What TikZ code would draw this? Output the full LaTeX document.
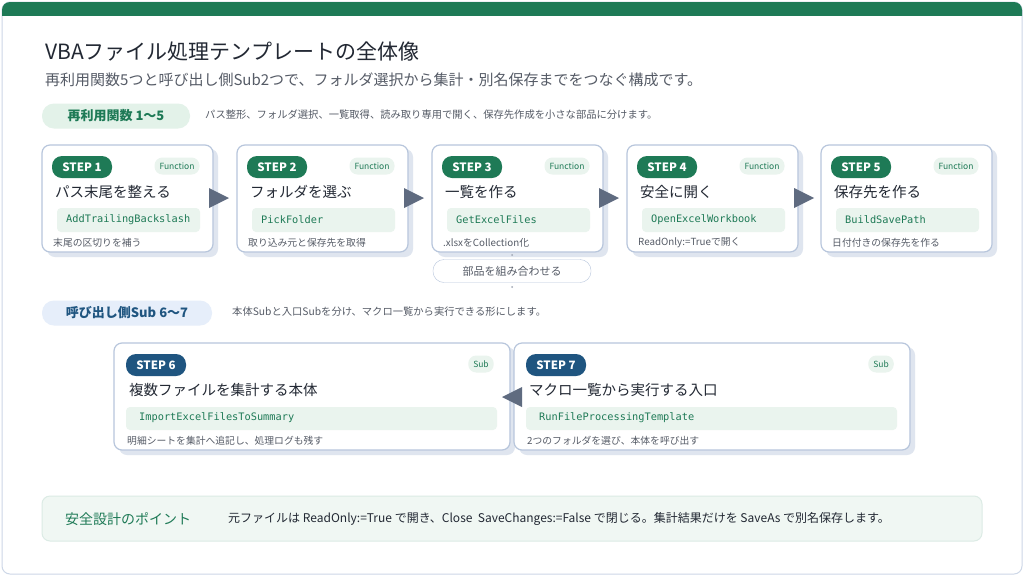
\documentclass[tikz,border=0pt]{standalone}
\usepackage{fontspec}
\setmainfont{Noto Sans CJK JP}
\newfontfamily\codefont{DejaVu Sans Mono}
\definecolor{dg}{HTML}{1E7A56}
\definecolor{lg}{HTML}{E3F2E9}
\definecolor{cg}{HTML}{EAF4EE}
\definecolor{db}{HTML}{1F5580}
\definecolor{lb}{HTML}{E6EEFA}
\definecolor{bd}{HTML}{B8C6DC}
\definecolor{ar}{HTML}{5F6B80}
\definecolor{tx}{HTML}{222833}
\definecolor{gt}{HTML}{555B66}
\tikzset{
 card/.style={draw=bd,line width=1.2pt,fill=white,rounded corners=8pt},
 shadowc/.style={fill=bd!45,rounded corners=8pt},
 badgeg/.style={fill=dg,text=white,rounded corners=10pt,font=\bfseries\fontsize{11.5}{11}\selectfont,minimum width=60pt,minimum height=22pt,inner sep=0pt},
 badgeb/.style={badgeg,fill=db},
 tag/.style={fill=cg,text=dg,rounded corners=8pt,font=\fontsize{8.5}{8}\selectfont,minimum height=17pt,inner xsep=5pt},
 ttl/.style={anchor=west,text=tx,font=\fontsize{14.5}{15}\selectfont,inner sep=0pt},
 codebox/.style={fill=cg,rounded corners=4pt},
 code/.style={anchor=west,text=dg,font=\codefont\fontsize{10.3}{10}\selectfont,inner sep=0pt},
 foot/.style={anchor=west,text=gt,font=\fontsize{9.8}{10}\selectfont,inner sep=0pt},
 tri/.style={fill=ar},
}
\begin{document}
\begin{tikzpicture}[x=1pt,y=-1pt]
\useasboundingbox (0,0) rectangle (1024,576);
\fill[white] (0,0) rectangle (1024,576);
\draw[bd!70,line width=1pt,rounded corners=8pt] (2,2) rectangle (1022,574);
\begin{scope}
\clip[rounded corners=8pt] (2,2) rectangle (1022,574);
\fill[dg] (0,0) rectangle (1024,16);
\end{scope}
\node[anchor=west,text=tx,font=\fontsize{21}{21}\selectfont,inner sep=0pt] (title) at (45,52) {VBAファイル処理テンプレートの全体像};
\node[anchor=west,text=gt,font=\fontsize{15}{15}\selectfont,inner sep=0pt] (sub) at (45,80) {再利用関数5つと呼び出し側Sub2つで、フォルダ選択から集計・別名保存までをつなぐ構成です。};
\node[fill=lg,text=dg,rounded corners=12pt,font=\bfseries\fontsize{13}{13}\selectfont,minimum width=148pt,minimum height=25pt] (p1) at (116,116) {再利用関数 1～5};
\node[anchor=west,text=gt,font=\fontsize{10.3}{10}\selectfont,inner sep=0pt] (d1) at (205,115) {パス整形、フォルダ選択、一覧取得、読み取り専用で開く、保存先作成を小さな部品に分けます。};
% top cards
\foreach \i/\x/\t/\c/\f in {1/42/パス末尾を整える/AddTrailingBackslash/末尾の区切りを補う,
 2/237/フォルダを選ぶ/PickFolder/取り込み元と保存先を取得,
 3/432/一覧を作る/GetExcelFiles/.xlsxをCollection化,
 4/627/安全に開く/OpenExcelWorkbook/ReadOnly:=Trueで開く,
 5/821/保存先を作る/BuildSavePath/日付付きの保存先を作る}{
 \fill[shadowc] (\x+5,149) rectangle (\x+176,257);
 \draw[card] (\x,145) rectangle (\x+171,252);
 \node[badgeg] (s\i) at (\x+40,167) {STEP \i};
 \node[tag] (f\i) at (\x+135,166) {Function};
 \node[ttl] (t\i) at (\x+13,192) {\t};
 \fill[codebox] (\x+15,208) rectangle (\x+158,232);
 \node[code] (c\i) at (\x+24,220) {\c};
 \node[foot] (n\i) at (\x+11,243) {\f};
}
\foreach \x in {209,404,599,794}{
 \fill[tri] (\x,188) -- (\x+20,198) -- (\x,208) -- cycle;
}
\node[draw=bd,fill=white,rounded corners=11pt,text=gt,font=\fontsize{11}{11}\selectfont,minimum width=158pt,minimum height=23pt] (combine) at (512,271) {部品を組み合わせる};
\fill[ar!60] (512,255) circle (1pt) (512,287) circle (1pt);
\node[fill=lb,text=db,rounded corners=12pt,font=\bfseries\fontsize{13}{13}\selectfont,minimum width=170pt,minimum height=25pt] (p2) at (127,313) {呼び出し側Sub 6～7};
\node[anchor=west,text=gt,font=\fontsize{10.3}{10}\selectfont,inner sep=0pt] (d2) at (232,312) {本体Subと入口Subを分け、マクロ一覧から実行できる形にします。};
% bottom cards
\foreach \i/\x/\t/\c/\f in {6/114/複数ファイルを集計する本体/ImportExcelFilesToSummary/{明細シートを集計へ追記し、処理ログも残す},
 7/514/マクロ一覧から実行する入口/RunFileProcessingTemplate/2つのフォルダを選び、本体を呼び出す}{
 \fill[shadowc] (\x+5,347) rectangle (\x+401,455);
 \draw[card] (\x,343) rectangle (\x+396,450);
 \node[badgeb] (s\i) at (\x+42,365) {STEP \i};
 \node[tag] (f\i) at (\x+367,364) {Sub};
 \node[ttl] (t\i) at (\x+15,390) {\t};
 \fill[codebox] (\x+12,407) rectangle (\x+383,430);
 \node[code] (c\i) at (\x+25,418) {\c};
 \node[foot] (n\i) at (\x+13,441) {\f};
}
\fill[tri] (522,387) -- (502,397) -- (522,407) -- cycle;
% bottom note
\draw[draw=lg!70!dg!40,fill=cg!70,rounded corners=8pt,line width=1pt] (42,496) rectangle (982,541);
\node[anchor=west,text=dg,font=\fontsize{14}{14}\selectfont,inner sep=0pt] (pt) at (65,519) {安全設計のポイント};
\node[anchor=west,text=tx,font=\fontsize{12}{12}\selectfont,inner sep=0pt] (ptx) at (228,519) {元ファイルは ReadOnly:=True で開き、Close\ \ SaveChanges:=False で閉じる。集計結果だけを SaveAs で別名保存します。};
\end{tikzpicture}
\end{document}
